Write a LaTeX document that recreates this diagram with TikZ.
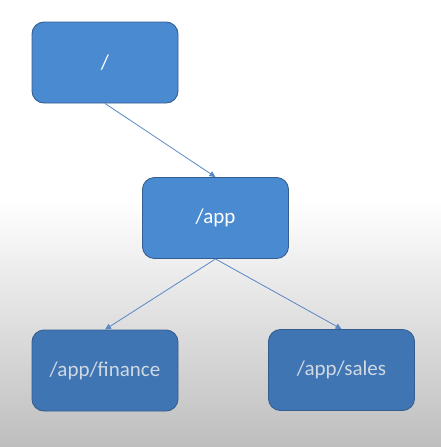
\documentclass[tikz,border=0pt]{standalone}
\usepackage{fontspec}
\setmainfont{Carlito}
\usetikzlibrary{arrows.meta, positioning}

\definecolor{boxtop}{RGB}{74,138,208}
\definecolor{boxlow}{RGB}{64,117,180}
\definecolor{boxedge}{RGB}{52,94,145}
\definecolor{linkcol}{RGB}{88,136,196}
\definecolor{bgbottom}{RGB}{190,190,190}
\definecolor{lowtext}{RGB}{208,216,226}

\begin{document}
\begin{tikzpicture}[
    x=1pt, y=-1pt,
    dirbox/.style={draw=boxedge, line width=0.9pt, rounded corners=12pt, minimum width=146pt, minimum height=81pt, inner sep=0pt, font=\fontsize{21}{25}\selectfont},
    upperbox/.style={dirbox, fill=boxtop, text=white},
    lowerbox/.style={dirbox, fill=boxlow, text=lowtext},
    link/.style={draw=linkcol, line width=0.8pt, -{Triangle[length=6pt, width=5.5pt]}},
]

% Hintergrund
\useasboundingbox (0,0) rectangle (441,447);
\fill[white] (0,0) rectangle (441,200);
\shade[top color=white, bottom color=bgbottom] (0,200) rectangle (441,447);

% Positionen
\node[upperbox] (root) at (105, 62.5) {/};
\node[upperbox] (app) at (215.5, 218) {/app};
\node[lowerbox] (finance) at (105, 370.5) {/app/finance};
\node[lowerbox] (sales) at (341.5, 370) {/app/sales};

% Linien
\draw[link] (root.south) -- (app.north);
\draw[link] (app.south) -- (finance.north);
\draw[link] (app.south) -- (sales.north);

\end{tikzpicture}
\end{document}
